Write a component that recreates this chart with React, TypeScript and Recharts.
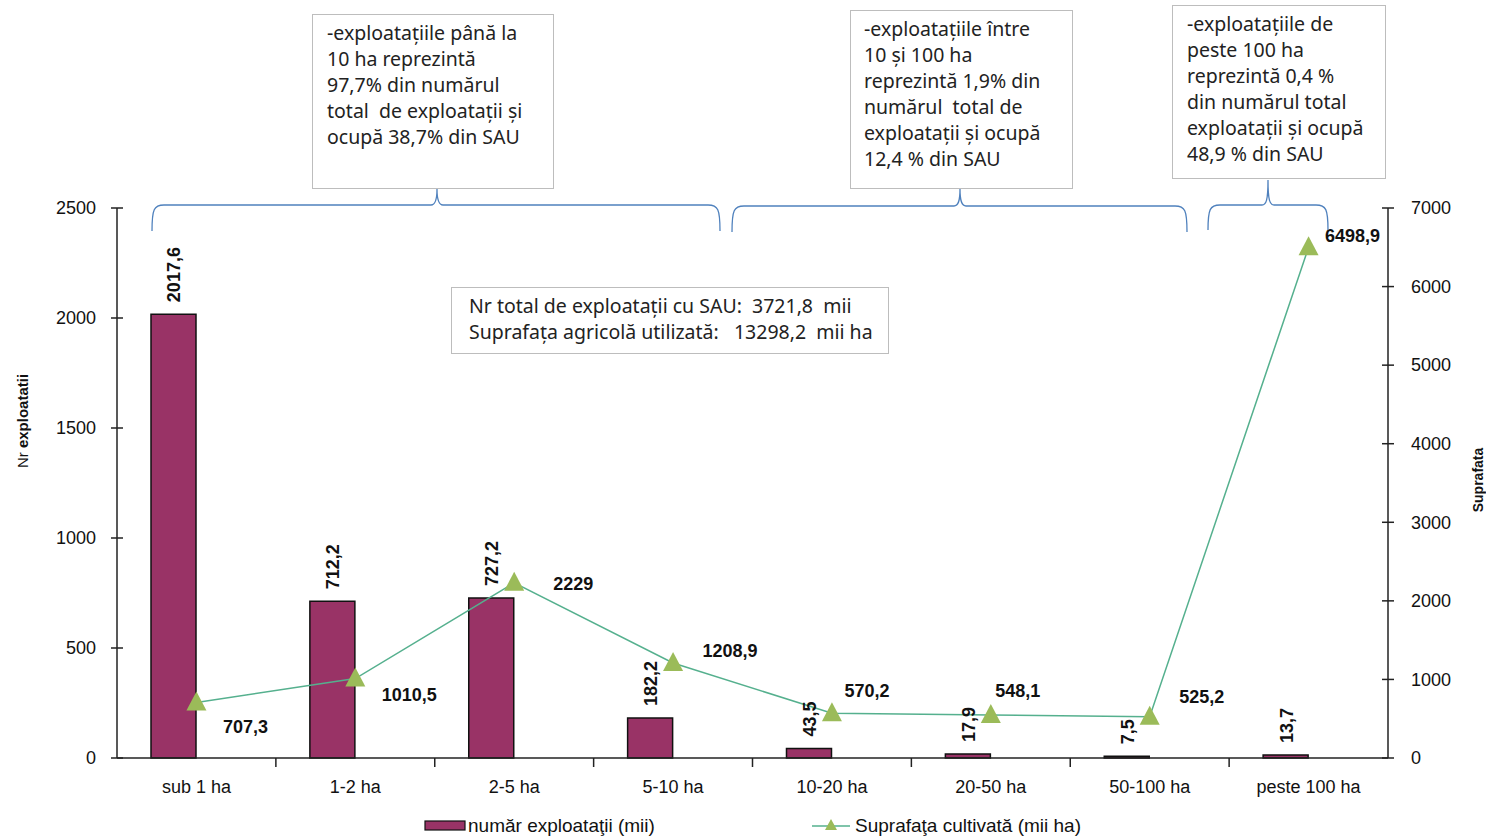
import React from "react";
import { ComposedChart, Bar, Line, XAxis, YAxis, LabelList } from "recharts";

// categories and values
const categories = ["sub 1 ha", "1-2 ha", "2-5 ha", "5-10 ha", "10-20 ha", "20-50 ha", "50-100 ha", "peste 100 ha"];
const farmCounts = [2017.6, 712.2, 727.2, 182.2, 43.5, 17.9, 7.5, 13.7];
const cultivatedArea = [707.3, 1010.5, 2229, 1208.9, 570.2, 548.1, 525.2, 6498.9];
const leftTicks = [0, 500, 1000, 1500, 2000, 2500];
const rightTicks = [0, 1000, 2000, 3000, 4000, 5000, 6000, 7000];

const noteSmall = ["-exploatațiile până la", "10 ha reprezintă", "97,7% din numărul", "total  de exploatații și", "ocupă 38,7% din SAU"];
const noteMedium = ["-exploatațiile între", "10 și 100 ha", "reprezintă 1,9% din", "numărul  total de", "exploatații și ocupă", "12,4 % din SAU"];
const noteLarge = ["-exploatațiile de", "peste 100 ha", "reprezintă 0,4 %", "din numărul total", "exploatații și ocupă", "48,9 % din SAU"];
const totals = ["Nr total de exploatații cu SAU:  3721,8  mii", "Suprafața agricolă utilizată:   13298,2  mii ha"];

const data = categories.map((name, i) => ({ name, farms: farmCounts[i], area: cultivatedArea[i] }));

const W = 1486;
const H = 837;
const PLOT_LEFT = 117;
const PLOT_RIGHT = 1388;
const PLOT_TOP = 208;
const PLOT_BOTTOM = 758;
const BAND = (PLOT_RIGHT - PLOT_LEFT) / categories.length;

const AXIS_FONT = "'Liberation Sans', Arial, sans-serif";
const NOTE_FONT = "'Noto Sans', Lato, sans-serif";
const BAR_COLOR = "#993366";
const LINE_COLOR = "#55b08e";
const MARKER_COLOR = "#9bbb59";

// label placement next to each line point (dx, dy)
const lineLabelOffsets = [
  [49, 24], [54, 16], [59, 1], [57, -12], [35, -22], [27, -24], [52, -20], [44, -12],
];

const fmt = (v: number) => String(v).replace(".", ",");

const LeftTick = (props: any) => {
  const { y, payload } = props;
  return (
    <g>
      <line x1={PLOT_LEFT - 6} x2={PLOT_LEFT + 6} y1={y} y2={y} stroke="#222" strokeWidth={1.5} />
      <text x={PLOT_LEFT - 21} y={y} dy="0.35em" textAnchor="end" fontSize={18} fontFamily={AXIS_FONT} fill="#111">
        {payload.value}
      </text>
    </g>
  );
};

const RightTick = (props: any) => {
  const { y, payload } = props;
  return (
    <g>
      <line x1={PLOT_RIGHT - 6} x2={PLOT_RIGHT + 6} y1={y} y2={y} stroke="#222" strokeWidth={1.5} />
      <text x={PLOT_RIGHT + 23} y={y} dy="0.35em" textAnchor="start" fontSize={18} fontFamily={AXIS_FONT} fill="#111">
        {payload.value}
      </text>
    </g>
  );
};

const CategoryTick = (props: any) => {
  const { x, payload, index } = props;
  return (
    <g>
      {index < categories.length - 1 && (
        <line x1={x + BAND / 2} x2={x + BAND / 2} y1={PLOT_BOTTOM} y2={PLOT_BOTTOM + 9} stroke="#222" strokeWidth={1.5} />
      )}
      <text x={x} y={PLOT_BOTTOM + 35} textAnchor="middle" fontSize={18} fontFamily={AXIS_FONT} fill="#111">
        {payload.value}
      </text>
    </g>
  );
};

const BarValueLabel = (props: any) => {
  const { x, y, width, value } = props;
  const cx = x + width / 2 + 7;
  const ty = y - 12;
  return (
    <text
      x={cx}
      y={ty}
      transform={`rotate(-90 ${cx} ${ty})`}
      textAnchor="start"
      fontSize={18}
      fontWeight="bold"
      fontFamily={AXIS_FONT}
      fill="#111"
    >
      {fmt(value)}
    </text>
  );
};

const LineValueLabel = (props: any) => {
  const { x, y, value, index } = props;
  const [dx, dy] = lineLabelOffsets[index];
  return (
    <text x={x + dx} y={y + dy} dy="0.35em" textAnchor="middle" fontSize={18} fontWeight="bold" fontFamily={AXIS_FONT} fill="#111">
      {fmt(value)}
    </text>
  );
};

const TriangleDot = (props: any) => {
  const { cx, cy, index } = props;
  if (cx == null || cy == null) return <g key={`t-${index}`} />;
  return <path key={`t-${index}`} d={`M${cx},${cy - 11} L${cx + 10},${cy + 8} L${cx - 10},${cy + 8} Z`} fill={MARKER_COLOR} />;
};

const NoteBox = ({ lines, left, top, width, height, padLeft, lineTop }: any) => (
  <div
    style={{
      position: "absolute",
      left,
      top,
      width,
      height,
      border: "1.5px solid #bdbdbd",
      background: "#fff",
      boxSizing: "border-box",
      fontFamily: NOTE_FONT,
      fontSize: 19.5,
      lineHeight: "26px",
      color: "#222",
      paddingLeft: padLeft,
      paddingTop: lineTop,
      whiteSpace: "pre",
    }}
  >
    {lines.map((l: string, i: number) => (
      <div key={i}>{l}</div>
    ))}
  </div>
);

// curly braces grouping the size classes
const brace = (x1: number, x2: number, mid: number, yLine: number, yEnd: number, yPeak: number) =>
  `M${x1},${yEnd} C${x1},${yLine + 4} ${x1 + 2},${yLine} ${x1 + 12},${yLine} L${mid - 6},${yLine} ` +
  `C${mid - 2},${yLine} ${mid},${yLine - 4} ${mid},${yPeak} C${mid},${yLine - 4} ${mid + 2},${yLine} ${mid + 6},${yLine} ` +
  `L${x2 - 12},${yLine} C${x2 - 2},${yLine} ${x2},${yLine + 4} ${x2},${yEnd}`;

export default function App() {
  return (
    <div style={{ position: "absolute", left: 0, top: 0, width: W, height: H, background: "#fff", overflow: "hidden" }}>
      <ComposedChart
        width={W}
        height={H}
        data={data}
        margin={{ top: PLOT_TOP, right: 0, bottom: H - PLOT_BOTTOM - 40, left: 0 }}
        barCategoryGap="21.4%"
        barGap={0}
      >
        <XAxis
          dataKey="name"
          height={40}
          axisLine={{ stroke: "#222", strokeWidth: 1.5 }}
          tickLine={false}
          tickSize={0}
          tickMargin={0}
          tick={<CategoryTick />}
          interval={0}
        />
        <YAxis
          yAxisId="left"
          width={PLOT_LEFT}
          domain={[0, 2500]}
          ticks={leftTicks}
          axisLine={{ stroke: "#222", strokeWidth: 1.5 }}
          tickLine={false}
          tickSize={0}
          tickMargin={0}
          tick={<LeftTick />}
          interval={0}
        />
        <YAxis
          yAxisId="right"
          orientation="right"
          width={W - PLOT_RIGHT}
          domain={[0, 7000]}
          ticks={rightTicks}
          axisLine={{ stroke: "#222", strokeWidth: 1.5 }}
          tickLine={false}
          tickSize={0}
          tickMargin={0}
          tick={<RightTick />}
          interval={0}
        />
        <Bar yAxisId="left" dataKey="farms" fill={BAR_COLOR} stroke="#111" strokeWidth={1.5} isAnimationActive={false}>
          <LabelList dataKey="farms" content={<BarValueLabel />} />
        </Bar>
        {/* empty slot so the bars sit left of the category centre, as in the original */}
        <Bar yAxisId="left" dataKey="slot" fill="none" legendType="none" isAnimationActive={false} />
        <Line
          yAxisId="right"
          dataKey="area"
          stroke={LINE_COLOR}
          strokeWidth={1.5}
          dot={TriangleDot}
          activeDot={false}
          isAnimationActive={false}
        >
          <LabelList dataKey="area" content={<LineValueLabel />} />
        </Line>
      </ComposedChart>

      {/* axis titles and braces */}
      <svg width={W} height={H} style={{ position: "absolute", left: 0, top: 0, pointerEvents: "none" }}>
        <text x={28} y={421} transform="rotate(-90 28 421)" textAnchor="middle" fontSize={15} fontFamily={AXIS_FONT} fill="#111">
          <tspan>Nr </tspan>
          <tspan fontWeight="bold">exploatatii</tspan>
        </text>
        <text x={1483} y={480} transform="rotate(-90 1483 480)" textAnchor="middle" fontSize={14} fontWeight="bold" fontFamily={AXIS_FONT} fill="#111">
          Suprafata
        </text>
        <g fill="none" stroke="#4f81bd" strokeWidth={1.3}>
          <path d={brace(152, 720, 437, 205, 231, 189)} />
          <path d={brace(732, 1187, 960, 206, 232, 189)} />
          <path d={brace(1208, 1328, 1268, 205, 230, 180)} />
        </g>
      </svg>

      <NoteBox lines={noteSmall} left={312} top={14} width={242} height={175} padLeft={14} lineTop={5} />
      <NoteBox lines={noteMedium} left={850} top={10} width={223} height={179} padLeft={13} lineTop={5} />
      <NoteBox lines={noteLarge} left={1172} top={5} width={214} height={174} padLeft={14} lineTop={5} />
      <NoteBox lines={totals} left={451} top={287} width={438} height={67} padLeft={17} lineTop={5} />

      {/* legend */}
      <div
        style={{
          position: "absolute",
          left: 0,
          top: 814,
          width: W,
          height: 24,
          fontFamily: AXIS_FONT,
          fontSize: 19,
          color: "#111",
        }}
      >
        <svg width={W} height={24} style={{ position: "absolute", left: 0, top: 0 }}>
          <rect x={425} y={7} width={40} height={9} fill={BAR_COLOR} stroke="#111" strokeWidth={1.2} />
          <line x1={812} x2={850} y1={12} y2={12} stroke={LINE_COLOR} strokeWidth={1.5} />
          <path d="M831,5 L837,16 L825,16 Z" fill={MARKER_COLOR} />
        </svg>
        <span style={{ position: "absolute", left: 468, top: 1 }}>număr exploataţii (mii)</span>
        <span style={{ position: "absolute", left: 855, top: 1 }}>Suprafaţa cultivată (mii ha)</span>
      </div>
    </div>
  );
}
